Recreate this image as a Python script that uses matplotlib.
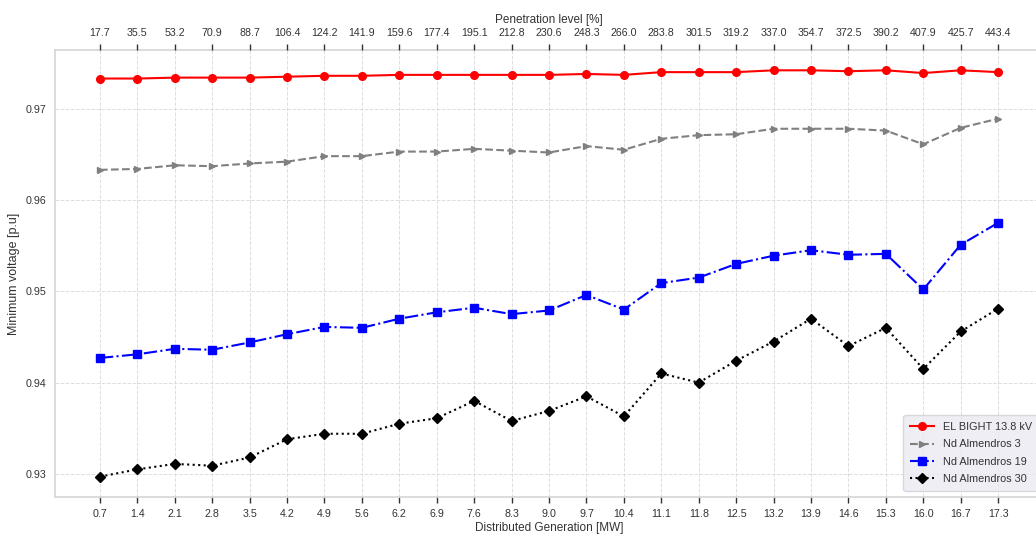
import numpy as np
import matplotlib
matplotlib.use("Agg")
import matplotlib.pyplot as plt

# Distributed generation steps (MW) and matching penetration level (%)
dg_mw = ["0.7", "1.4", "2.1", "2.8", "3.5", "4.2", "4.9", "5.6", "6.2", "6.9",
         "7.6", "8.3", "9.0", "9.7", "10.4", "11.1", "11.8", "12.5", "13.2",
         "13.9", "14.6", "15.3", "16.0", "16.7", "17.3"]
penetration = ["17.7", "35.5", "53.2", "70.9", "88.7", "106.4", "124.2", "141.9",
               "159.6", "177.4", "195.1", "212.8", "230.6", "248.3", "266.0",
               "283.8", "301.5", "319.2", "337.0", "354.7", "372.5", "390.2",
               "407.9", "425.7", "443.4"]

# Minimum voltage per node [p.u]
el_bight = [0.9733, 0.9733, 0.9734, 0.9734, 0.9734, 0.9735, 0.9736, 0.9736,
            0.9737, 0.9737, 0.9737, 0.9737, 0.9737, 0.9738, 0.9737, 0.9740,
            0.9740, 0.9740, 0.9742, 0.9742, 0.9741, 0.9742, 0.9739, 0.9742,
            0.9740]
almendros_3 = [0.9633, 0.9634, 0.9638, 0.9637, 0.9640, 0.9642, 0.9648, 0.9648,
               0.9653, 0.9653, 0.9656, 0.9654, 0.9652, 0.9659, 0.9655, 0.9667,
               0.9671, 0.9672, 0.9678, 0.9678, 0.9678, 0.9676, 0.9661, 0.9679,
               0.9689]
almendros_19 = [0.9427, 0.9431, 0.9437, 0.9436, 0.9444, 0.9453, 0.9461, 0.9460,
                0.9470, 0.9477, 0.9482, 0.9475, 0.9479, 0.9496, 0.9480, 0.9509,
                0.9515, 0.9530, 0.9539, 0.9545, 0.9540, 0.9541, 0.9502, 0.9551,
                0.9575]
almendros_30 = [0.9297, 0.9305, 0.9311, 0.9309, 0.9318, 0.9338, 0.9344, 0.9344,
                0.9355, 0.9361, 0.9380, 0.9358, 0.9369, 0.9385, 0.9363, 0.9410,
                0.9400, 0.9424, 0.9445, 0.9470, 0.9440, 0.9460, 0.9415, 0.9456,
                0.9481]

plt.rcParams["font.family"] = ["Liberation Sans", "DejaVu Sans"]
text_col = "#333333"
grid_col = "#dddddd"
tick_fs = 7.7

fig = plt.figure(figsize=(10.36, 5.37), dpi=100)
ax = fig.add_axes([0.0531, 0.0745, 0.9537, 0.8324])
x = np.arange(len(dg_mw))

ax.plot(x, el_bight, color="red", marker="o", ls="-", lw=1.5, ms=5.5,
        label="EL BIGHT 13.8 kV")
ax.plot(x, almendros_3, color="gray", marker=">", ls="--", lw=1.5, ms=5,
        label="Nd Almendros 3")
ax.plot(x, almendros_19, color="blue", marker="s", ls="-.", lw=1.5, ms=5.5,
        label="Nd Almendros 19")
ax.plot(x, almendros_30, color="black", marker="D", ls=":", lw=1.5, ms=5.5,
        label="Nd Almendros 30")

ax.set_xticks(x)
ax.set_xticklabels(dg_mw)
ax.set_yticks([0.93, 0.94, 0.95, 0.96, 0.97])
ax.yaxis.set_major_formatter(matplotlib.ticker.FormatStrFormatter("%.2f"))
ax.tick_params(axis="x", length=4, width=1, color=text_col, labelsize=tick_fs,
               labelcolor=text_col, pad=4.5)
ax.tick_params(axis="y", length=0, labelsize=tick_fs, labelcolor=text_col, pad=6)
ax.grid(True, ls="--", color=grid_col, lw=0.7)
ax.set_axisbelow(True)
for s in ax.spines.values():
    s.set_color("#d5d5d5")
    s.set_linewidth(1.2)
ax.set_xlabel("Distributed Generation [MW]", fontsize=8.5, color=text_col,
              labelpad=2.5)
ax.set_ylabel("Minimum voltage [p.u]", fontsize=9, color=text_col,
              labelpad=4)

# second x axis on top with the penetration level
top = ax.twiny()
top.set_xlim(ax.get_xlim())
top.set_xticks(x)
top.set_xticklabels(penetration)
top.tick_params(axis="x", length=4, width=1, color=text_col, labelsize=tick_fs,
                labelcolor=text_col, pad=4.5)
for s in top.spines.values():
    s.set_visible(False)
top.set_xlabel("Penetration level [%]", fontsize=8.5, color=text_col,
               labelpad=3.5)

leg = ax.legend(loc="lower right", bbox_to_anchor=(0.996, 0.0134),
                borderaxespad=0, fontsize=7.8, labelspacing=0.67,
                borderpad=0.65, frameon=True, facecolor="#eaeaf2",
                edgecolor="#d0d0d8", fancybox=True, handlelength=2.2)
for t in leg.get_texts():
    t.set_color(text_col)

fig.savefig("out.png", dpi=100)
